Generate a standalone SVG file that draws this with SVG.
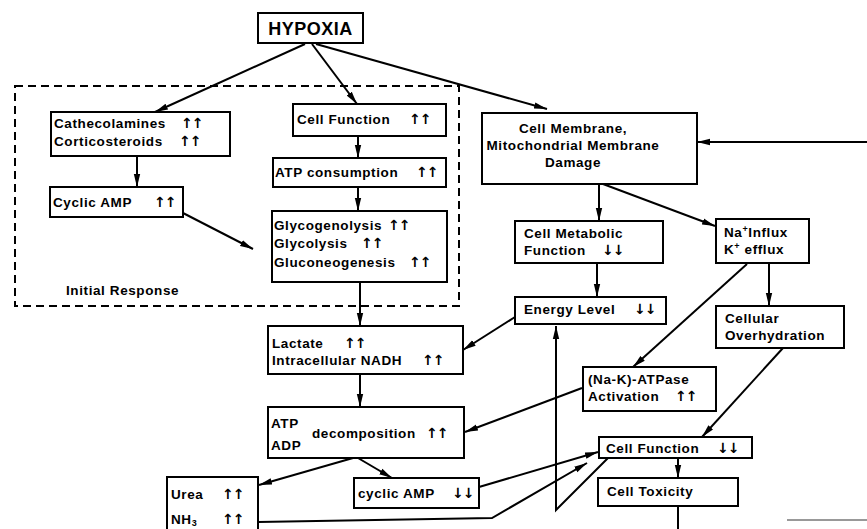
<svg xmlns="http://www.w3.org/2000/svg" width="867" height="529" viewBox="0 0 867 529">
<style>
.box{fill:#fff;stroke:#000;stroke-width:2}
.t{font-family:"Liberation Sans",Arial,sans-serif;font-weight:bold;font-size:13.5px;letter-spacing:0.6px;fill:#000}
.ar{font-family:"DejaVu Sans",sans-serif;font-size:14px;font-weight:bold;letter-spacing:-1px;fill:#000}
.c{fill:none;stroke:#000;stroke-width:2}
</style>
<defs>
<marker id="ah" markerUnits="userSpaceOnUse" markerWidth="14" markerHeight="8" refX="13" refY="4" orient="auto">
<path d="M0,0.8 L13,4 L0,7.2 Z" fill="#000"/>
</marker>
</defs>
<rect width="867" height="529" fill="#fff"/>
<g id="connectors">
<line class="c" x1="305" y1="44" x2="155" y2="112" marker-end="url(#ah)"/>
<line class="c" x1="312" y1="44" x2="357" y2="104" marker-end="url(#ah)"/>
<line class="c" x1="316" y1="44" x2="547" y2="109" marker-end="url(#ah)"/>
<line class="c" x1="137" y1="156" x2="137" y2="187" marker-end="url(#ah)"/>
<line class="c" x1="358" y1="136" x2="358" y2="158" marker-end="url(#ah)"/>
<line class="c" x1="358" y1="187" x2="358" y2="211" marker-end="url(#ah)"/>
<line class="c" x1="183" y1="213" x2="253" y2="249" marker-end="url(#ah)"/>
<line class="c" x1="360" y1="282" x2="360" y2="326" marker-end="url(#ah)"/>
<line class="c" x1="360" y1="374" x2="360" y2="407" marker-end="url(#ah)"/>
<line class="c" x1="353" y1="458" x2="259" y2="485" marker-end="url(#ah)"/>
<line class="c" x1="358" y1="458" x2="392" y2="478" marker-end="url(#ah)"/>
<polyline class="c" points="258,522 492,518 587,463" marker-end="url(#ah)"/>
<line class="c" x1="479" y1="487" x2="598" y2="452" marker-end="url(#ah)"/>
<polyline class="c" points="608,458 556,510 556,326" marker-end="url(#ah)"/>
<line class="c" x1="678" y1="458" x2="678" y2="478" marker-end="url(#ah)"/>
<line class="c" x1="678" y1="506" x2="678" y2="529"/>
<line class="c" x1="867" y1="142" x2="697" y2="142" marker-end="url(#ah)"/>
<line class="c" x1="599" y1="184" x2="599" y2="221" marker-end="url(#ah)"/>
<line class="c" x1="603" y1="184" x2="715" y2="226" marker-end="url(#ah)"/>
<line class="c" x1="597" y1="263" x2="597" y2="297" marker-end="url(#ah)"/>
<line class="c" x1="515" y1="317" x2="463" y2="350" marker-end="url(#ah)"/>
<line class="c" x1="769" y1="263" x2="769" y2="306" marker-end="url(#ah)"/>
<line class="c" x1="747" y1="264" x2="633" y2="367" marker-end="url(#ah)"/>
<line class="c" x1="582" y1="388" x2="465" y2="432" marker-end="url(#ah)"/>
<line class="c" x1="783" y1="348" x2="702" y2="437" marker-end="url(#ah)"/>
<line x1="787" y1="520" x2="867" y2="520" stroke="#999" stroke-width="2"/>
</g>
<g id="initial-response">
<rect x="15" y="86" width="444" height="220" fill="none" stroke="#000" stroke-width="2" stroke-dasharray="8,5"/>
<text class="t" x="66" y="295">Initial Response</text>
</g>
<g id="hypoxia">
<rect class="box" x="258" y="13" width="105" height="30"/>
<text x="310.5" y="35" text-anchor="middle" font-family="Liberation Sans,Arial,sans-serif" font-weight="bold" font-size="18" letter-spacing="0.5">HYPOXIA</text>
</g>
<g id="cathecolamines">
<rect class="box" x="51" y="112" width="179" height="44"/>
<text class="t" x="54" y="128">Cathecolamines<tspan class="ar" x="181">↑↑</tspan></text>
<text class="t" x="54" y="146">Corticosteroids<tspan class="ar" x="179">↑↑</tspan></text>
</g>
<g id="cyclic-amp-up">
<rect class="box" x="50" y="187" width="133" height="30"/>
<text class="t" x="53" y="207">Cyclic AMP<tspan class="ar" x="154">↑↑</tspan></text>
</g>
<g id="cell-function-up">
<rect class="box" x="293" y="104" width="153" height="32"/>
<text class="t" x="297" y="124">Cell Function<tspan class="ar" x="409">↑↑</tspan></text>
</g>
<g id="atp-consumption">
<rect class="box" x="273" y="158" width="173" height="29"/>
<text class="t" x="275" y="177">ATP consumption<tspan class="ar" x="416">↑↑</tspan></text>
</g>
<g id="glyco">
<rect class="box" x="272" y="211" width="175" height="71"/>
<text class="t" x="274" y="230">Glycogenolysis<tspan class="ar" x="388">↑↑</tspan></text>
<text class="t" x="274" y="248">Glycolysis<tspan class="ar" x="361">↑↑</tspan></text>
<text class="t" x="274" y="267">Gluconeogenesis<tspan class="ar" x="409">↑↑</tspan></text>
</g>
<g id="lactate">
<rect class="box" x="268" y="326" width="195" height="48"/>
<text class="t" x="272" y="348">Lactate<tspan class="ar" x="344">↑↑</tspan></text>
<text class="t" x="272" y="365">Intracellular NADH<tspan class="ar" x="422">↑↑</tspan></text>
</g>
<g id="atp-adp">
<rect class="box" x="268" y="407" width="196" height="51"/>
<text class="t" x="271" y="428">ATP</text>
<text class="t" x="271" y="450">ADP</text>
<text class="t" x="312" y="438">decomposition<tspan class="ar" x="426">↑↑</tspan></text>
</g>
<g id="urea">
<rect class="box" x="167" y="477" width="91" height="60"/>
<text class="t" x="171" y="499">Urea<tspan class="ar" x="222">↑↑</tspan></text>
<text class="t" x="171" y="524">NH<tspan font-size="9" dy="2">3</tspan><tspan class="ar" x="222" dy="-2">↑↑</tspan></text>
</g>
<g id="cyclic-amp-down">
<rect class="box" x="354" y="478" width="125" height="30"/>
<text class="t" x="358" y="498">cyclic AMP<tspan class="ar" x="452">↓↓</tspan></text>
</g>
<g id="cell-membrane">
<rect class="box" x="482" y="113" width="215" height="71"/>
<text class="t" x="573" y="133" text-anchor="middle">Cell Membrane,</text>
<text class="t" x="573" y="150" text-anchor="middle">Mitochondrial Membrane</text>
<text class="t" x="573" y="167" text-anchor="middle">Damage</text>
</g>
<g id="cell-metabolic">
<rect class="box" x="515" y="221" width="148" height="42"/>
<text class="t" x="524" y="238">Cell Metabolic</text>
<text class="t" x="524" y="255">Function<tspan class="ar" x="602">↓↓</tspan></text>
</g>
<g id="na-influx">
<rect class="box" x="716" y="219" width="93" height="44"/>
<text class="t" x="724" y="237" letter-spacing="0">Na<tspan font-size="9" dy="-5">+</tspan><tspan dy="5">Influx</tspan></text>
<text class="t" x="724" y="254" letter-spacing="0">K<tspan font-size="9" dy="-5">+</tspan><tspan dy="5"> efflux</tspan></text>
</g>
<g id="energy-level">
<rect class="box" x="515" y="297" width="151" height="27"/>
<text class="t" x="524" y="314">Energy Level<tspan class="ar" x="634">↓↓</tspan></text>
</g>
<g id="overhydration">
<rect class="box" x="716" y="306" width="128" height="42"/>
<text class="t" x="725" y="323">Cellular</text>
<text class="t" x="725" y="340">Overhydration</text>
</g>
<g id="na-k-atpase">
<rect class="box" x="583" y="367" width="133" height="44"/>
<text class="t" x="588" y="384">(Na-K)-ATPase</text>
<text class="t" x="588" y="401">Activation<tspan class="ar" x="675">↑↑</tspan></text>
</g>
<g id="cell-function-down">
<rect class="box" x="599" y="437" width="153" height="21"/>
<text class="t" x="606" y="453">Cell Function<tspan class="ar" x="717">↓↓</tspan></text>
</g>
<g id="cell-toxicity">
<rect class="box" x="598" y="478" width="140" height="28"/>
<text class="t" x="607" y="496">Cell Toxicity</text>
</g>
</svg>
